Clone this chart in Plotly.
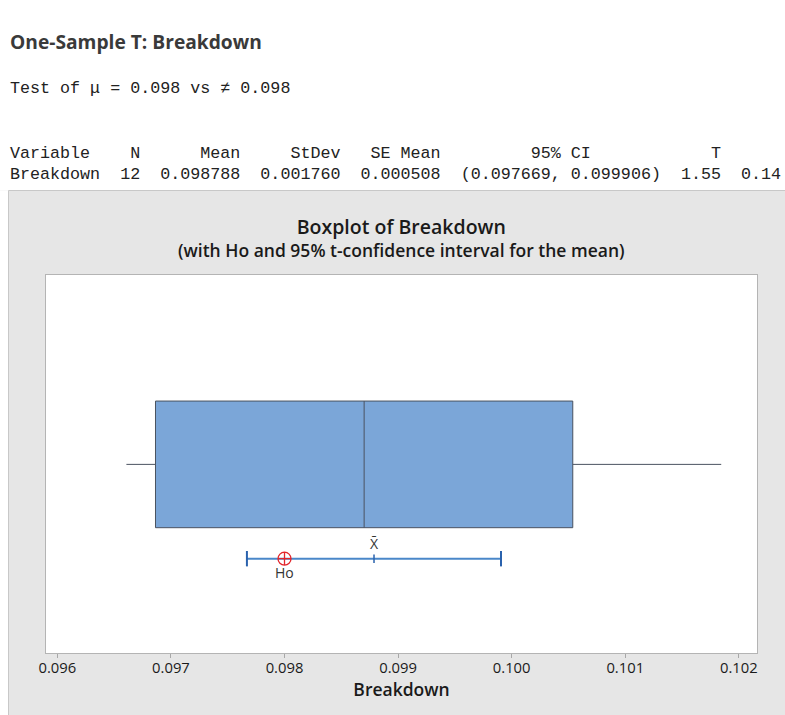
import plotly.graph_objects as go

# ---- summary statistics ----
variable = "Breakdown"
n_obs = 12
mean_val = 0.098788
stdev_val = 0.001760
se_mean = 0.000508
ci_low = 0.097669
ci_high = 0.099906
t_stat = 1.55
p_val = 0.14
h0_val = 0.098

# ---- five-number summary for the boxplot ----
box_low_whisker = 0.096608
box_q1 = 0.096864
box_median = 0.098701
box_q3 = 0.100538
box_high_whisker = 0.101845

# ---- axis ticks ----
tick_vals = [0.096, 0.097, 0.098, 0.099, 0.100, 0.101, 0.102]
tick_text = ["0.096", "0.097", "0.098", "0.099", "0.100", "0.101", "0.102"]

NBSP = "\u00a0"

def mono(s):
    return s.replace(" ", NBSP)

header = ("Variable".ljust(9) + "N".rjust(4) + "Mean".rjust(10) + "StDev".rjust(10)
          + "SE Mean".rjust(10) + (" " * 9 + "95% CI").ljust(22) + "T".rjust(6))
row = (variable.ljust(9) + str(n_obs).rjust(4) + f"{mean_val:.6f}".rjust(10)
       + f"{stdev_val:.6f}".rjust(10) + f"{se_mean:.6f}".rjust(10)
       + f"({ci_low:.6f}, {ci_high:.6f})".rjust(22) + f"{t_stat:.2f}".rjust(6)
       + f"{p_val:.2f}".rjust(6))
test_line = f"Test of \u03bc = {h0_val:.3f} vs \u2260 {h0_val:.3f}"

# layout geometry (pixels)
W, H = 785, 715
ML, MR, MT, MB = 46, 28, 275, 62
PW, PH = W - ML - MR, H - MT - MB


def px(x):
    return (x - ML) / PW


def py(y):
    return (H - MB - y) / PH


BOX_Y = 0.499
BOX_W = 0.335
CI_Y = 0.2495

SANS = "Open Sans"
MONO = "Liberation Mono"

fig = go.Figure()

fig.add_trace(go.Box(
    orientation="h",
    y=[BOX_Y],
    q1=[box_q1], median=[box_median], q3=[box_q3],
    lowerfence=[box_low_whisker], upperfence=[box_high_whisker],
    width=BOX_W,
    whiskerwidth=0,
    fillcolor="#7ba6d8",
    line=dict(color="#4a5260", width=1),
    boxpoints=False,
    showlegend=False,
    hoverinfo="skip",
))

# confidence interval for the mean
fig.add_trace(go.Scatter(
    x=[ci_low, ci_high], y=[CI_Y, CI_Y], mode="lines",
    line=dict(color="#4a87c9", width=2), showlegend=False, hoverinfo="skip",
))
fig.add_trace(go.Scatter(
    x=[ci_low, ci_high], y=[CI_Y, CI_Y], mode="markers",
    marker=dict(symbol="line-ns", size=11, line=dict(color="#2a62ad", width=2)),
    showlegend=False, hoverinfo="skip",
))
fig.add_trace(go.Scatter(
    x=[mean_val], y=[CI_Y], mode="markers",
    marker=dict(symbol="line-ns", size=6, line=dict(color="#2a62ad", width=1.5)),
    showlegend=False, hoverinfo="skip",
))
fig.add_trace(go.Scatter(
    x=[h0_val], y=[CI_Y], mode="markers",
    marker=dict(symbol="circle-cross-open", size=13, color="#e3262b",
                line=dict(color="#e3262b", width=1.3)),
    showlegend=False, hoverinfo="skip",
))

annotations = [
    dict(x=mean_val, y=CI_Y, xref="x", yref="y", text="X\u0304", showarrow=False,
         yshift=15, font=dict(family=SANS, size=14, color="#333333")),
    dict(x=h0_val, y=CI_Y, xref="x", yref="y", text="Ho", showarrow=False,
         yshift=-14, font=dict(family=SANS, size=14, color="#333333")),
    dict(x=0.5, y=py(237), xref="paper", yref="paper",
         text="<span style='font-size:19.5px'>Boxplot of Breakdown</span><br>"
              "(with Ho and 95% t-confidence interval for the mean)",
         showarrow=False, yanchor="middle", align="center", borderpad=0,
         font=dict(family=SANS, size=17.5, color="#1a1a1a", weight=600)),
    dict(x=px(10), y=py(42), xref="paper", yref="paper", text="One-Sample T: Breakdown",
         showarrow=False, xanchor="left", yanchor="middle", borderpad=0, borderwidth=0,
         font=dict(family=SANS, size=19.2, color="#3a3a3a", weight="bold")),
]
for text, ycen in [(test_line, 88), (header, 153), (row, 174)]:
    annotations.append(dict(
        x=px(10), y=py(ycen), xref="paper", yref="paper", text=mono(text),
        showarrow=False, xanchor="left", yanchor="middle", borderpad=0, borderwidth=0,
        font=dict(family=MONO, size=16.7, color="#222222"),
    ))

PANEL_X = px(8.5)
PANEL_Y = py(190.5)
shapes = [
    dict(type="rect", xref="paper", yref="paper", x0=-0.2, x1=1.2, y0=PANEL_Y, y1=2.0,
         fillcolor="white", line=dict(width=0), layer="below"),
    dict(type="rect", xref="paper", yref="paper", x0=-0.2, x1=PANEL_X, y0=-0.5, y1=PANEL_Y,
         fillcolor="white", line=dict(width=0), layer="below"),
    dict(type="path", xref="paper", yref="paper",
         path=f"M {PANEL_X},-0.5 L {PANEL_X},{PANEL_Y} L 1.2,{PANEL_Y}",
         line=dict(color="#c8c8c8", width=1), layer="below"),
]

fig.update_layout(
    width=W, height=H,
    margin=dict(l=ML, r=MR, t=MT, b=MB),
    paper_bgcolor="#e6e6e6",
    plot_bgcolor="white",
    annotations=annotations,
    shapes=shapes,
    showlegend=False,
    xaxis=dict(
        range=[0.0959, 0.10216],
        tickvals=tick_vals, ticktext=tick_text,
        ticks="outside", ticklen=4, tickcolor="#a8a8a8", tickwidth=1,
        ticklabelstandoff=-3,
        showline=True, mirror=True, linecolor="#b4b4b4", linewidth=1,
        showgrid=False, zeroline=False,
        tickfont=dict(family=SANS, size=14.8, color="#1a1a1a"),
        title=dict(text="Breakdown", standoff=4,
                   font=dict(family=SANS, size=17.5, color="#1a1a1a", weight=600)),
    ),
    yaxis=dict(
        range=[0, 1], showticklabels=False, ticks="",
        showline=True, mirror=True, linecolor="#b4b4b4", linewidth=1,
        showgrid=False, zeroline=False,
    ),
)

fig.write_html("out.html")
